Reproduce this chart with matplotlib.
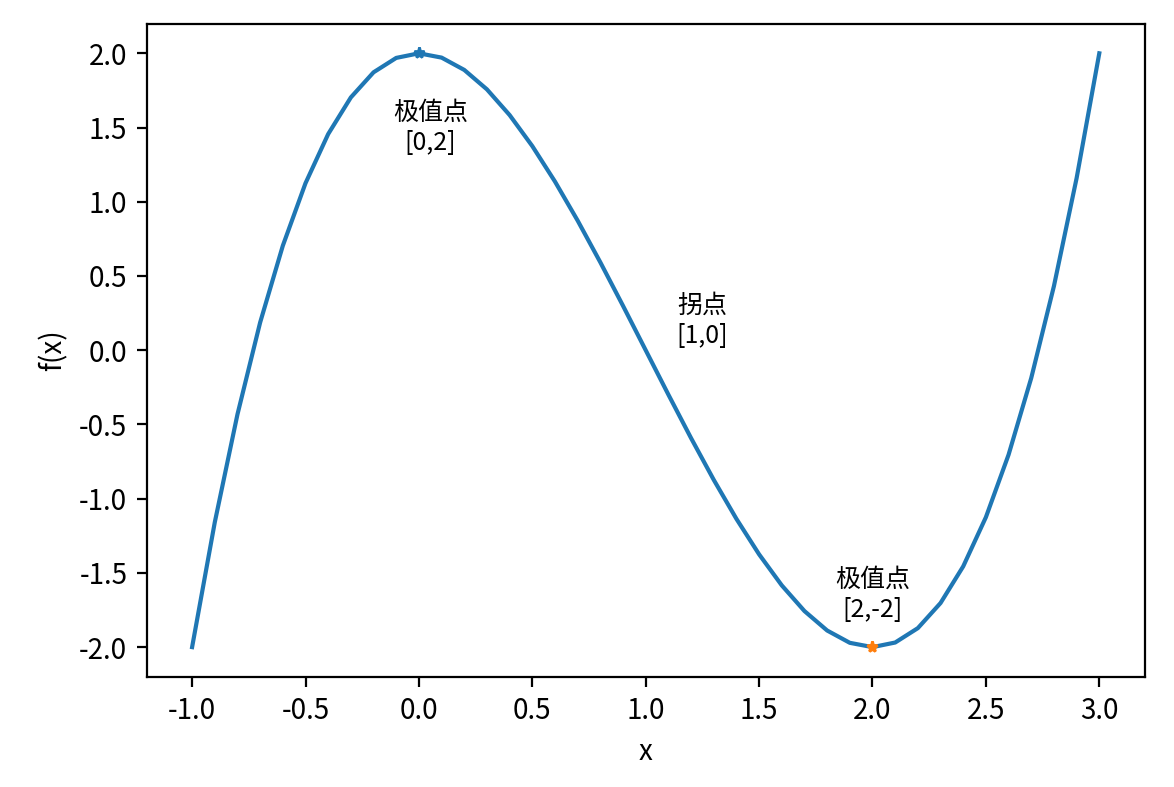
import matplotlib
matplotlib.use("Agg")
import matplotlib.pyplot as plt

plt.rcParams['font.family'] = ['Noto Sans CJK SC', 'DejaVu Sans']
plt.rcParams['axes.unicode_minus'] = False

x = [-1.0, -0.9, -0.8, -0.7, -0.6, -0.5, -0.4, -0.3, -0.2, -0.1, 0.0,
     0.1, 0.2, 0.3, 0.4, 0.5, 0.6, 0.7, 0.8, 0.9, 1.0,
     1.1, 1.2, 1.3, 1.4, 1.5, 1.6, 1.7, 1.8, 1.9, 2.0,
     2.1, 2.2, 2.3, 2.4, 2.5, 2.6, 2.7, 2.8, 2.9, 3.0]
y = [-2.0, -1.159, -0.432, 0.187, 0.704, 1.125, 1.456, 1.703, 1.872, 1.969, 2.0,
     1.971, 1.888, 1.757, 1.584, 1.375, 1.136, 0.873, 0.592, 0.299, 0.0,
     -0.299, -0.592, -0.873, -1.136, -1.375, -1.584, -1.757, -1.888, -1.971, -2.0,
     -1.969, -1.872, -1.703, -1.456, -1.125, -0.704, -0.187, 0.432, 1.159, 2.0]
ext1 = (0, 2)
ext2 = (2, -2)
labels = ["极值点\n[0,2]", "拐点\n[1,0]", "极值点\n[2,-2]"]
label_pos = [(0.05, 1.5), (1.25, 0.2), (2.0, -1.65)]

fig, ax = plt.subplots(figsize=(5.87, 3.935), dpi=200)
ax.plot(x, y, color='C0', lw=1.5)
ax.plot([ext1[0]], [ext1[1]], '*', color='C0', ms=4)
ax.plot([ext2[0]], [ext2[1]], '*', color='C1', ms=4)
for t, (px, py) in zip(labels, label_pos):
    ax.text(px, py, t, ha='center', va='center', fontsize=9, linespacing=1.2)
ax.set_xlabel('x')
ax.set_ylabel('f(x)')
ax.set_xlim(-1.2, 3.2)
ax.set_ylim(-2.2, 2.2)
fig.subplots_adjust(left=0.125, right=0.975, top=0.97, bottom=0.14)
fig.savefig('out.png', dpi=200)
